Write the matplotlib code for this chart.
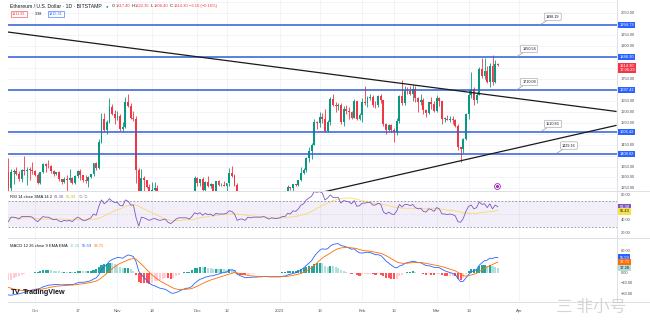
import datetime as dt
import numpy as np
import matplotlib.pyplot as plt
from matplotlib.transforms import blended_transform_factory as blend

plt.rcParams['font.family'] = ['Liberation Sans', 'DejaVu Sans']

W, H = 650, 323
GREEN, RED = '#089981', '#f23645'

# ETH/USD 1D, Bitstamp, 2022-09-21 .. 2023-03-24
first_day = dt.date(2022, 9, 21)
origin = dt.date(2022, 10, 1)

opens = [1324, 1252, 1327, 1328, 1317, 1294, 1335, 1330, 1336, 1335,
         1328, 1311, 1276, 1323, 1362, 1352, 1351, 1331, 1316, 1323, 1291, 1280, 1295, 1288, 1297, 1274,
         1306, 1331, 1310, 1287, 1282, 1300, 1314, 1364, 1345, 1461, 1565, 1515, 1555, 1619, 1588,
         1572, 1579, 1519, 1531, 1645, 1627, 1571, 1568, 1334, 1100, 1299, 1288, 1256, 1221, 1242,
         1252, 1217, 1201, 1212, 1219, 1143, 1107, 1135, 1184, 1204, 1199, 1205, 1196, 1171, 1218,
         1296, 1276, 1293, 1241, 1280, 1259, 1270, 1231, 1282, 1264, 1266, 1263, 1273, 1320, 1309,
         1265, 1167, 1187, 1185, 1167, 1217, 1212, 1219, 1219, 1221, 1219, 1226, 1212, 1190, 1201, 1199,
         1196, 1200, 1214, 1214, 1256, 1251, 1269, 1264, 1288, 1321, 1336, 1388, 1419, 1450, 1551,
         1550, 1575, 1566, 1512, 1552, 1659, 1628, 1627, 1629, 1555, 1612, 1603, 1597, 1571, 1647, 1567,
         1586, 1642, 1640, 1664, 1665, 1632, 1629, 1673, 1651, 1544, 1515, 1540, 1515, 1507, 1556,
         1673, 1638, 1694, 1692, 1681, 1703, 1661, 1643, 1651, 1607, 1594, 1643, 1635,
         1605, 1663, 1648, 1568, 1568, 1564, 1565, 1562, 1534, 1437, 1429, 1475, 1589, 1676, 1703,
         1653, 1676, 1792, 1762, 1785, 1734, 1808, 1737, 1817.40]
highs = [1390, 1340, 1340, 1350, 1330, 1340, 1400, 1350, 1350, 1370,
         1332, 1320, 1327, 1368, 1365, 1380, 1358, 1336, 1325, 1330, 1295, 1300, 1310, 1340, 1300,
         1312, 1335, 1340, 1312, 1310, 1305, 1318, 1366, 1370, 1475, 1592, 1595, 1560, 1660, 1633, 1606,
         1605, 1590, 1551, 1667, 1680, 1640, 1603, 1582, 1345, 1340, 1305, 1290, 1270, 1280, 1280,
         1265, 1225, 1230, 1225, 1222, 1150, 1137, 1190, 1215, 1205, 1228, 1225, 1200, 1230, 1305,
         1300, 1295, 1300, 1285, 1305, 1275, 1272, 1285, 1290, 1275, 1285, 1277, 1345, 1352, 1315,
         1276, 1190, 1195, 1195, 1225, 1220, 1222, 1225, 1223, 1222, 1230, 1238, 1214, 1205, 1202, 1205,
         1201, 1222, 1220, 1265, 1258, 1272, 1271, 1290, 1350, 1345, 1395, 1440, 1455, 1565, 1558,
         1600, 1594, 1610, 1560, 1665, 1680, 1643, 1640, 1640, 1625, 1630, 1620, 1605, 1657, 1648, 1595,
         1660, 1715, 1670, 1680, 1675, 1650, 1678, 1680, 1655, 1548, 1545, 1545, 1525, 1570, 1675,
         1742, 1718, 1710, 1715, 1720, 1715, 1665, 1680, 1660, 1610, 1645, 1665, 1650,
         1675, 1665, 1650, 1575, 1585, 1580, 1580, 1568, 1545, 1440, 1480, 1595, 1700, 1780, 1712,
         1690, 1805, 1845, 1845, 1810, 1820, 1860, 1835, 1822.35]
lows = [1220, 1220, 1270, 1310, 1283, 1280, 1310, 1265, 1290, 1315,
        1305, 1271, 1271, 1320, 1325, 1345, 1320, 1305, 1310, 1285, 1270, 1276, 1190, 1280, 1270,
        1272, 1296, 1290, 1280, 1275, 1255, 1298, 1307, 1336, 1339, 1458, 1505, 1500, 1550, 1585, 1545,
        1560, 1510, 1512, 1526, 1620, 1565, 1557, 1275, 1075, 1100, 1215, 1250, 1205, 1175, 1237,
        1190, 1185, 1195, 1200, 1135, 1075, 1090, 1130, 1175, 1180, 1195, 1193, 1155, 1165, 1215,
        1263, 1260, 1238, 1238, 1255, 1250, 1220, 1226, 1260, 1262, 1260, 1240, 1262, 1300, 1260,
        1160, 1160, 1177, 1160, 1165, 1205, 1195, 1212, 1215, 1208, 1215, 1205, 1185, 1186, 1190, 1193,
        1192, 1195, 1205, 1212, 1243, 1240, 1260, 1262, 1285, 1315, 1325, 1370, 1385, 1446, 1520,
        1530, 1550, 1505, 1507, 1540, 1625, 1597, 1609, 1545, 1535, 1590, 1565, 1565, 1570, 1560, 1560,
        1555, 1630, 1620, 1655, 1620, 1615, 1620, 1640, 1535, 1500, 1510, 1505, 1460, 1495, 1550,
        1630, 1630, 1680, 1675, 1650, 1645, 1600, 1630, 1590, 1575, 1590, 1610, 1600,
        1600, 1625, 1545, 1555, 1560, 1555, 1545, 1530, 1425, 1370, 1410, 1470, 1565, 1660, 1630,
        1640, 1675, 1755, 1750, 1730, 1710, 1720, 1730, 1806.40]
closes = [1252, 1327, 1328, 1317, 1294, 1335, 1330, 1336, 1335, 1328,
          1311, 1276, 1323, 1362, 1352, 1351, 1331, 1316, 1323, 1291, 1280, 1295, 1288, 1297, 1274,
          1306, 1331, 1310, 1287, 1282, 1300, 1314, 1364, 1345, 1461, 1565, 1515, 1555, 1619, 1588, 1572,
          1579, 1519, 1531, 1645, 1627, 1571, 1568, 1334, 1100, 1299, 1288, 1256, 1221, 1242, 1252,
          1217, 1201, 1212, 1219, 1143, 1107, 1135, 1184, 1204, 1199, 1205, 1196, 1171, 1218, 1296,
          1276, 1293, 1241, 1280, 1259, 1270, 1231, 1282, 1264, 1266, 1263, 1273, 1320, 1309, 1265,
          1167, 1187, 1185, 1167, 1217, 1212, 1219, 1219, 1221, 1219, 1226, 1212, 1190, 1201, 1199, 1196,
          1200, 1214, 1214, 1256, 1251, 1269, 1264, 1288, 1321, 1336, 1388, 1419, 1450, 1551, 1550,
          1575, 1566, 1512, 1552, 1659, 1628, 1627, 1629, 1555, 1612, 1603, 1597, 1571, 1647, 1567, 1586,
          1642, 1640, 1664, 1665, 1632, 1629, 1673, 1651, 1544, 1515, 1540, 1515, 1507, 1556, 1673,
          1638, 1694, 1692, 1681, 1703, 1661, 1643, 1651, 1607, 1594, 1643, 1635, 1605,
          1663, 1648, 1568, 1568, 1564, 1565, 1562, 1534, 1437, 1429, 1475, 1589, 1676, 1703, 1653,
          1676, 1792, 1762, 1785, 1734, 1808, 1737, 1817, 1814.30]

# RSI 14 and its SMA 14
rsi = [38, 45, 45, 44, 42, 46, 46, 46, 46, 45,
       41, 38, 42, 46, 45, 45, 43, 41, 42, 39, 38, 40, 39, 40, 38, 42, 45, 43, 40, 40,
       42, 44, 50, 48, 62, 72, 66, 69, 74, 70, 68,
       68, 63, 63, 72, 70, 64, 64, 44, 31, 45, 44, 42, 40, 42, 43, 41, 40, 41, 42, 37,
       35, 38, 42, 44, 44, 44, 44, 42, 46, 52,
       50, 52, 48, 51, 49, 50, 47, 51, 50, 50, 50, 51, 55, 54, 50, 40, 42, 42, 40, 45,
       44, 45, 45, 45, 45, 46, 44, 42, 44, 43, 43,
       44, 46, 46, 51, 50, 55, 54, 58, 64, 66, 72, 75, 78, 85, 84, 85, 83, 72, 75, 80,
       76, 76, 76, 67, 71, 70, 69, 66, 71, 62, 63,
       67, 67, 68, 68, 64, 64, 67, 65, 53, 50, 53, 50, 49, 55, 65, 61, 65, 65, 63, 65,
       60, 58, 59, 54, 53, 58, 57, 54,
       60, 58, 50, 50, 49, 50, 49, 47, 38, 37, 43, 54, 62, 64, 58, 60, 69, 65, 66, 60,
       66, 58, 64, 61.38]
rsi_sma = [44, 44, 44, 44, 44, 44, 44, 44, 44, 44,
           43, 43, 42, 42, 42, 42, 42, 42, 42, 42, 42, 42, 42, 41, 41, 41, 41, 41, 41, 41,
           41, 41, 42, 42, 43, 45, 47, 49, 51, 53, 55,
           57, 58, 60, 62, 63, 64, 65, 64, 62, 60, 58, 56, 54, 52, 50, 48, 46, 44, 42, 41,
           40, 40, 40, 40, 40, 41, 41, 41, 41, 42,
           43, 44, 45, 45, 46, 47, 47, 48, 48, 49, 49, 49, 50, 50, 50, 50, 49, 49, 48, 48,
           47, 47, 46, 46, 46, 46, 45, 45, 45, 44, 44,
           44, 44, 44, 45, 45, 46, 46, 47, 48, 49, 50, 52, 54, 56, 59, 61, 63, 65, 67, 69,
           71, 72, 73, 74, 74, 75, 75, 75, 74, 73, 72,
           71, 70, 69, 68, 67, 66, 66, 66, 65, 64, 63, 62, 61, 60, 60, 59, 59, 59, 59, 59,
           59, 59, 59, 58, 58, 59, 59, 59,
           58, 58, 57, 57, 56, 56, 55, 55, 54, 53, 52, 52, 51, 51, 51, 51, 52, 52, 53, 53,
           54, 54, 55, 55.43]

# MACD 12 26 9: MACD line and signal line
macd = [-83, -84, -82, -80, -79, -76, -73, -70, -67, -65,
        -62, -61, -58, -53, -50, -47, -46, -45, -44, -45, -46, -45, -45, -44, -45,
        -42, -38, -36, -36, -35, -33, -30, -24, -20, -8, 10, 20, 30, 42, 48, 52,
        56, 55, 53, 60, 65, 63, 59, 40, 5, -8, -18, -29, -40, -46, -49,
        -54, -58, -60, -62, -68, -75, -77, -74, -70, -65, -61, -58, -57, -51, -40,
        -32, -25, -22, -17, -15, -12, -12, -8, -6, -2, 0, 2, 8, 10, 8,
        -6, -11, -15, -19, -18, -18, -17, -17, -16, -16, -15, -15, -16, -16, -16, -16,
        -16, -14, -13, -9, -6, -3, -1, 3, 10, 17, 26, 35, 44, 60, 72,
        82, 88, 86, 88, 98, 104, 106, 107, 100, 98, 95, 91, 86, 88, 79, 73,
        72, 74, 75, 74, 70, 66, 66, 63, 53, 42, 35, 27, 20, 17, 24,
        27, 33, 37, 39, 42, 40, 37, 36, 31, 26, 25, 23, 19,
        19, 18, 12, 7, 3, 0, -3, -7, -22, -34, -32, -20, -8, 3, 6,
        11, 27, 36, 44, 46, 53, 52, 56, 55.59]
signal = [-55, -58, -61, -63, -65, -66, -67, -67, -66, -65,
          -64.4, -63.7, -62.6, -60.7, -58.6, -56.3, -54.2, -52.4, -50.7, -49.6, -48.9, -48.1, -47.5,
          -46.8, -46.4, -45.5, -44.0, -42.4, -41.1, -39.9, -38.5, -36.8, -34.2, -31.4, -26.7, -19.4,
          -11.5, -3.2, 5.8, 14.3, 21.9,
          28.7, 34.0, 37.8, 42.2, 46.8, 50.0, 51.8, 49.4, 40.5, 30.8, 21.1, 11.1, 0.9, -8.5, -16.6,
          -24.1, -30.9, -36.7, -41.8, -47.0, -52.6, -57.5, -60.8, -62.6, -63.1, -62.7, -61.8, -60.8,
          -58.8, -55.1,
          -50.5, -45.4, -40.7, -36.0, -31.8, -27.8, -24.7, -21.3, -18.3, -15.0, -12.0, -9.2, -5.8,
          -2.6, -0.5, -1.6, -3.5, -5.8, -8.4, -10.3, -11.9, -12.9, -13.7, -14.2, -14.5, -14.6, -14.7,
          -15.0, -15.2, -15.3, -15.5,
          -15.6, -15.3, -14.8, -13.7, -12.1, -10.3, -8.4, -6.1, -2.9, 1.1, 6.1, 11.9, 18.3, 26.6, 35.7,
          45.0, 53.6, 60.1, 65.7, 72.1, 78.5, 84.0, 88.6, 90.9, 92.3, 92.8, 92.5, 91.2, 90.5, 88.2, 85.2,
          82.6, 80.9, 79.7, 78.6, 76.8, 74.7, 73.0, 71.0, 67.4, 62.3, 56.9, 50.9, 44.7, 39.1, 36.1,
          34.3, 34.0, 34.6, 35.5, 36.8, 37.4, 37.3, 37.1, 35.9, 33.9, 32.1, 30.3, 28.0,
          26.2, 24.6, 22.0, 19.0, 15.8, 12.7, 9.5, 6.2, 0.6, -6.3, -11.4, -13.2, -12.1, -9.1, -6.1,
          -2.7, 3.2, 9.8, 16.0, 20.8, 25.5, 29.5, 34.5, 38.71]

# drawn levels and trend lines (x in days from 2022-10-01)
levels = [1994.73, 1848.30, 1697.42, 1506.42, 1408.02]
down_trend = ([-10.2, 218.4], [1962.7, 1601.1])
up_trend = ([107.1, 218.4], [1230.4, 1537.1])
notes = [('1998.19', 189.8, 1994.73), ('1850.56', 180.8, 1848.30), ('1710.09', 180.8, 1697.42),
         ('1510.83', 189.8, 1506.42), ('1429.16', 195.8, 1408.02)]

time_ticks = [0, 16, 31, 44, 61, 72, 92, 107, 123, 135, 151, 163, 182]
time_labels = ['Oct', '17', 'Nov', '14', 'Dec', '12', '2023', '16', 'Feb', '13', 'Mar', '13', 'Apr']
price_ticks = [2050, 1950, 1900, 1750, 1650, 1600, 1550, 1450, 1350, 1300, 1250]
rsi_ticks = [80, 40, 20]
macd_ticks = [80, 0, -40, -80]

n = len(closes)
days = np.array([(first_day - origin).days + i for i in range(n)])
o, h, l, c = map(np.array, (opens, highs, lows, closes))
macd = np.array(macd)
signal = np.array(signal)


def box(x0, y0, x1, y1):
    return [x0 / W, 1 - y1 / H, (x1 - x0) / W, (y1 - y0) / H]


fig = plt.figure(figsize=(W / 100, H / 100), dpi=100)
fig.patch.set_facecolor('white')
ax = fig.add_axes(box(8, 0, 617, 191))
ax_rsi = fig.add_axes(box(8, 191, 617, 238))
ax_macd = fig.add_axes(box(8, 238, 617, 302))

XL = (-10.15, 218.8)
for a in (ax, ax_rsi, ax_macd):
    a.set_xlim(*XL)
    a.set_xticks([])
    a.set_yticks([])
    for s in a.spines.values():
        s.set_visible(False)
    for t in time_ticks:
        a.axvline(t, color='#eef0f5', lw=0.5, zorder=0)

ax.set_ylim(1238.5, 2108.6)
ax_rsi.set_ylim(12.4, 86)
ax_macd.set_ylim(-109, 127.8)

# price pane
for p in range(1250, 2101, 50):
    ax.axhline(p, color='#eef0f5', lw=0.5, zorder=0)

up = c >= o
col = np.where(up, GREEN, RED)
ax.vlines(days, l, h, colors=col, lw=0.6, zorder=2)
ax.bar(days, np.maximum(np.abs(c - o), 1.5), width=0.72, bottom=np.minimum(o, c),
       color=col, linewidth=0, zorder=3)

for lv in levels:
    ax.axhline(lv, color='#2f5ed6', lw=1.1, zorder=4)
ax.plot(*down_trend, color='#1a1a1a', lw=0.9, zorder=4)
ax.plot(*up_trend, color='#1a1a1a', lw=0.9, zorder=4)

for txt, d, p in notes:
    ax.annotate(txt, xy=(d, p), xytext=(4.5, 4.5), textcoords='offset points',
                fontsize=2.7, color='#131722', ha='left', va='bottom', zorder=6,
                bbox=dict(boxstyle='round,pad=0.45,rounding_size=0.3', fc='white', ec='#9598a1', lw=0.4),
                arrowprops=dict(arrowstyle='-', color='#9598a1', lw=0.5, shrinkA=0, shrinkB=0))

ax.plot(173.7, 1261, marker='o', ms=4.2, mfc='white', mec='#9c27b0', mew=0.6, zorder=6)
ax.plot(173.7, 1261, marker='o', ms=1.2, color='#9c27b0', zorder=7)

# RSI pane
ax_rsi.axhspan(30, 70, color='#7e57c2', alpha=0.09, lw=0)
for v in (70, 30):
    ax_rsi.axhline(v, color='#787b86', lw=0.5, ls=(0, (2.5, 2.5)))
ax_rsi.axhline(50, color='#787b86', lw=0.4, ls=(0, (1, 2.5)), alpha=0.5)
ax_rsi.plot(days, rsi_sma, color='#f5d54a', lw=0.6, alpha=0.8)
ax_rsi.plot(days, rsi, color='#7e57c2', lw=0.6)

# MACD pane
hist = macd - signal
prev = np.concatenate([[hist[0]], hist[:-1]])
hcol = np.where(hist >= 0, np.where(hist >= prev, '#26a69a', '#b2dfdb'),
                np.where(hist < prev, '#ff5252', '#ffcdd2'))
ax_macd.bar(days, hist, width=0.78, color=hcol, linewidth=0)
ax_macd.plot(days, macd, color='#2962ff', lw=0.6)
ax_macd.plot(days, signal, color='#ff6d00', lw=0.6)

# frame lines
line_kw = dict(color='#d8dbe3', lw=0.6)
fig.add_artist(plt.Line2D([617 / W, 617 / W], [1 - 302 / H, 1], transform=fig.transFigure, **line_kw))
for yy in (191, 238, 302):
    fig.add_artist(plt.Line2D([8 / W, 1], [1 - yy / H] * 2, transform=fig.transFigure, **line_kw))

# right scale labels
AX_X = 620.5 / W
for a, ticks in ((ax, price_ticks), (ax_rsi, rsi_ticks), (ax_macd, macd_ticks)):
    tr = blend(fig.transFigure, a.transData)
    for v in ticks:
        a.text(AX_X, v, f'{v:.2f}'.replace('-', '\u2212'), transform=tr, fontsize=2.9,
               color='#50535e', va='center', ha='left', clip_on=False)


def tag(a, v, text, fc, tc='white'):
    a.text(619.5 / W, v, text, transform=blend(fig.transFigure, a.transData), fontsize=2.9,
           color=tc, va='center', ha='left', clip_on=False, zorder=10, linespacing=1.0,
           bbox=dict(boxstyle='square,pad=0.3', fc=fc, ec='none'))


for lv in levels:
    tag(ax, lv, f'{lv:.2f}', '#2962ff')
tag(ax, 1800, '1814.30\n17:06:29', RED)
tag(ax_rsi, 61.38, '61.38', '#7e57c2')
tag(ax_rsi, 54.0, '55.43', '#f7e14a', '#131722')
tag(ax_macd, 55.59, '55.59', '#2962ff')
tag(ax_macd, 38.71, '38.71', '#ff6d00')
tag(ax_macd, 17.28, '17.28', '#b2dfdb', '#131722')

# time axis
trx = blend(ax_macd.transData, fig.transFigure)
for t, lab in zip(time_ticks, time_labels):
    ax_macd.text(t, 1 - 311 / H, lab, transform=trx, fontsize=3.1, color='#50535e',
                 ha='center', va='center', clip_on=False)

renderer = fig.canvas.get_renderer()


def row(x, y, parts, size, gap=2.0):
    for txt, colr in parts:
        t = fig.text(x / W, 1 - y / H, txt, color=colr, fontsize=size, va='center')
        x += t.get_window_extent(renderer).width + gap
    return x


x = row(10, 6, [('Ethereum / U.S. Dollar \u00b7 1D \u00b7 BITSTAMP', '#131722')], 3.7, 4)
x = row(x, 6, [('\u25cf', GREEN)], 3.0, 3)
row(x, 6, [('O', '#131722'), ('1817.40', RED), ('H', '#131722'), ('1822.35', RED),
           ('L', '#131722'), ('1806.40', RED), ('C', '#131722'), ('1814.30', RED),
           ('\u22123.10 (\u22120.16%)', RED)], 3.0, 1.0)

fig.text(12 / W, 1 - 14 / H, '1811.93', fontsize=2.7, color=RED, va='center',
         bbox=dict(boxstyle='square,pad=0.35', fc='white', ec=RED, lw=0.4))
fig.text(35 / W, 1 - 14 / H, '3.38', fontsize=2.7, color='#131722', va='center')
fig.text(49 / W, 1 - 14 / H, '1815.31', fontsize=2.7, color='#2962ff', va='center',
         bbox=dict(boxstyle='square,pad=0.35', fc='white', ec='#2962ff', lw=0.4))

row(10, 196.5, [('RSI 14 close SMA 14 2', '#131722'), ('61.38', '#7e57c2'),
                ('55.43', '#d8b800'), ('\u2205', '#787b86'), ('\u2205', '#787b86')], 3.0)
row(10, 246, [('MACD 12 26 close 9 EMA EMA', '#131722'), ('17.28', '#80cbc4'),
              ('55.59', '#2962ff'), ('38.71', '#ff6d00')], 3.0)

fig.text(11 / W, 1 - 293 / H, 'TV', fontsize=5.6, weight='heavy', color='#131722', va='center')
fig.text(23 / W, 1 - 293 / H, 'TradingView', fontsize=5.2, weight='bold', color='#131722', va='center')

fig.text(556 / W, 1 - 307 / H, '\u4e09 非小号', fontsize=12, color='#b5b5b5', alpha=0.55,
         va='center', family=['Noto Sans CJK SC', 'DejaVu Sans'])

fig.savefig('out.png', dpi=100, facecolor='white')
